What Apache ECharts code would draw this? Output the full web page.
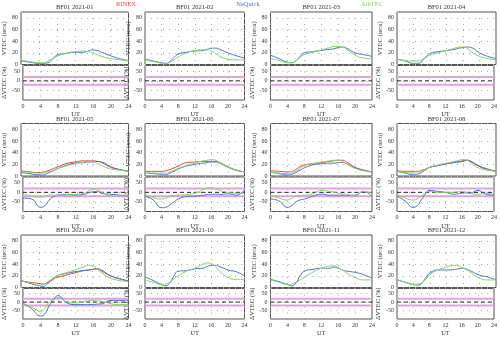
<!DOCTYPE html>
<html>
<head>
<meta charset="utf-8">
<script src="https://cdn.jsdelivr.net/npm/echarts@6/dist/echarts.min.js"></script>
<style>
html,body{margin:0;padding:0;background:#fff;}
#chart{width:500px;height:338px;}
</style>
</head>
<body>
<div id="chart"></div>
<script>
// Station BF01, monthly median diurnal VTEC for 2021 and relative model error.
const STATION = 'BF01';
const MONTHS = ['2021-01','2021-02','2021-03','2021-04','2021-05','2021-06',
                '2021-07','2021-08','2021-09','2021-10','2021-11','2021-12'];
const HOURS = [0,2,4,5,6,7,8,10,12,14,15,16,17,18,20,22,24];
const X_TICKS = [0,4,8,12,16,20,24];
const VTEC_TICKS = [0,20,40,60,80];
const DVTEC_TICKS = [50,0,-50];
const DVTEC_BAND = [20,-20];

// VTEC (TECU), one row per month, sampled at HOURS. null = no receiver data.
const RINEX_VTEC = [
  null, null, null, null,
  [9,7,6,7,9,12,15,21,24,26,26,26,25,23,15,11,8],
  [8,8,8,9,11,14,17,23,24,25,25,25,25,23,16,10,7],
  [9,8,7,8,11,16,19,21,23,25,26,27,27,24,15,10,7],
  [9,8,8,8,10,12,15,18,21,24,25,26,27,24,16,11,8],
  [11,9,7,6,9,13,17,21,25,29,30,31,32,28,20,15,11],
  null, null, null
];
const NEQUICK_VTEC = [
  [6,4,2,2,3,9,16,19,21,21,23,25,24,21,15,10,7],
  [9,6,3,2,5,12,18,21,23,24,26,28,28,26,20,15,11],
  [16,10,4,3,6,14,20,22,24,26,27,29,30,28,20,17,14],
  [9,6,2,2,5,13,19,22,24,26,28,29,30,29,20,14,10],
  [6,4,2,2,5,8,12,18,22,23,24,24,25,24,16,11,8],
  [6,4,3,2,5,8,12,17,20,22,23,24,24,22,15,10,7],
  [7,4,2,3,6,10,14,19,21,22,22,23,23,21,14,10,7],
  [8,5,2,3,6,11,15,18,21,23,24,25,27,25,17,12,8],
  [12,7,3,2,7,14,20,24,27,29,30,31,32,30,20,15,11],
  [18,12,5,3,8,20,28,29,32,33,36,38,38,36,30,27,20],
  [14,10,5,3,8,20,28,31,33,33,35,33,30,28,26,22,16],
  [13,9,5,4,7,17,25,30,30,31,32,33,31,28,21,18,13]
];
const ATHTEC_VTEC = [
  [7,5,3,3,6,10,14,19,22,23,22,20,17,14,10,8,6],
  [7,5,2,1,4,8,13,20,24,25,25,23,19,14,9,8,8],
  [10,7,3,3,6,12,17,21,25,29,31,31,30,26,16,11,10],
  [9,7,6,6,8,12,16,20,24,28,30,30,28,22,14,10,8],
  [8,6,5,5,7,9,12,17,21,24,25,25,22,18,12,10,8],
  [6,5,5,5,7,10,13,18,22,26,27,28,27,23,16,10,7],
  [6,5,4,5,8,13,18,21,24,26,27,27,25,21,13,9,7],
  [8,6,5,5,8,12,15,19,22,25,27,28,27,22,13,10,8],
  [11,8,4,5,10,15,20,25,30,35,38,37,32,25,16,12,10],
  [13,9,5,6,10,15,20,28,33,40,42,41,36,28,17,14,14],
  [13,9,5,6,9,13,18,26,33,37,37,34,30,25,17,13,13],
  [13,9,5,6,8,14,22,30,35,38,37,33,30,25,16,13,13]
];

// Relative difference against RINEX (%), sampled at HOURS.
const NEQUICK_DVTEC = [
  null, null, null, null,
  [-30,-35,-78,-70,-40,-22,-14,-12,-14,-10,-2,3,4,-6,-10,-15,-20],
  [-20,-40,-80,-78,-65,-50,-35,-22,-20,-15,-12,-10,-10,-12,-8,-15,12],
  [-35,-45,-78,-70,-50,-40,-35,-20,-10,-15,-15,-15,-15,-15,-15,5,-25],
  [-20,-45,-78,-70,-40,-10,10,5,0,-10,-8,-5,-3,-5,10,-10,-15],
  [-5,-40,-82,-70,-20,15,38,-5,-15,-15,-15,-15,-12,-10,10,10,10],
  null, null, null
];
const ATHTEC_DVTEC = [
  null, null, null, null,
  [-8,-20,-25,-20,-14,-15,-17,-13,-10,-5,8,17,10,0,-20,-15,-17],
  [-10,-28,-35,-30,-20,-17,-15,-12,-5,15,22,25,18,10,0,-5,-5],
  [-15,-30,-40,-32,-20,-17,-15,-8,10,5,2,-5,-8,-10,-20,5,-5],
  [-10,-30,-40,-35,-20,-5,5,0,0,0,3,5,2,-5,-10,-5,-10],
  [-10,-30,-55,-35,0,15,28,0,-5,5,8,10,8,5,-10,-15,-15],
  null, null, null
];

const COLORS = { RINEX: '#f23a3a', NeQuick: '#4d6fd1', AthTEC: '#80d85c' };
const FONT = 'Liberation Serif';

// panel geometry (px)
const COL_LEFT = [21, 145, 270.5, 397];
const COL_RIGHT = [128.5, 244.5, 372, 496];
const ROW_TOP0 = 12, ROW_STEP = 111.5;
const UP_H = 52.5, LOW_H = 34.5;

const dotted = { color: '#a8a8a8', width: 1, type: [1, 5] };
const labelStyle = { fontFamily: FONT, fontSize: 6, color: '#333' };
const nameStyle = { fontFamily: FONT, fontSize: 6.5, color: '#333' };

const grids = [], xAxes = [], yAxes = [], series = [], graphics = [];
const pts = arr => HOURS.map((h, k) => [h, arr[k]]);

MONTHS.forEach((month, i) => {
  const r = Math.floor(i / 4), c = i % 4;
  const left = COL_LEFT[c], width = COL_RIGHT[c] - left;
  const top = ROW_TOP0 + ROW_STEP * r;
  const gu = grids.length, gl = gu + 1;

  grids.push({ left, top, width, height: UP_H, show: true, borderColor: '#555', borderWidth: 1 });
  grids.push({ left, top: top + UP_H + 1, width, height: LOW_H, show: true, borderColor: '#555', borderWidth: 1 });

  const baseX = {
    type: 'value', min: 0, max: 24, interval: 4,
    axisLine: { show: false }, axisTick: { show: false },
    splitLine: { show: true, lineStyle: dotted }
  };
  xAxes.push(Object.assign({}, baseX, { gridIndex: gu, axisLabel: { show: false } }));
  xAxes.push(Object.assign({}, baseX, {
    gridIndex: gl,
    axisLabel: Object.assign({ show: true, margin: 3,
      formatter: v => X_TICKS.includes(v) ? String(v) : '' }, labelStyle),
    name: 'UT', nameLocation: 'middle', nameGap: 11, nameTextStyle: nameStyle
  }));

  yAxes.push({
    gridIndex: gu, type: 'value', min: 0, max: 90, interval: 20,
    axisLine: { show: false }, axisTick: { show: false },
    splitLine: { show: true, lineStyle: dotted },
    axisLabel: Object.assign({ margin: 3,
      formatter: v => VTEC_TICKS.includes(v) ? String(v) : '' }, labelStyle),
    name: 'VTEC (tecu)', nameLocation: 'middle', nameGap: 10, nameRotate: 90,
    nameTextStyle: nameStyle
  });
  yAxes.push({
    gridIndex: gl, type: 'value', min: -100, max: 80, interval: 50,
    axisLine: { show: false }, axisTick: { show: false },
    splitLine: { show: true, lineStyle: dotted },
    axisLabel: Object.assign({ margin: 3,
      formatter: v => DVTEC_TICKS.includes(v) ? String(v) : '' }, labelStyle),
    name: 'ΔVTEC (%)', nameLocation: 'middle', nameGap: 10, nameRotate: 90,
    nameTextStyle: nameStyle
  });

  const line = (name, data, xi, yi, extra) => Object.assign({
    name, type: 'line', xAxisIndex: xi, yAxisIndex: yi, data,
    showSymbol: false, smooth: true, silent: true, animation: false,
    lineStyle: { color: COLORS[name], width: 1 }, itemStyle: { color: COLORS[name] }
  }, extra || {});

  // upper panel: VTEC curves
  if (RINEX_VTEC[i]) series.push(line('RINEX', pts(RINEX_VTEC[i]), gu, gu));
  series.push(line('NeQuick', pts(NEQUICK_VTEC[i]), gu, gu));
  series.push(line('AthTEC', pts(ATHTEC_VTEC[i]), gu, gu));

  // lower panel: tolerance band and zero line
  DVTEC_BAND.forEach(v => series.push({
    type: 'line', xAxisIndex: gl, yAxisIndex: gl, data: [[0, v], [24, v]],
    showSymbol: false, silent: true, animation: false,
    lineStyle: { color: '#e2a2e2', width: 2 }
  }));
  series.push({
    type: 'line', xAxisIndex: gl, yAxisIndex: gl, data: [[0, 0], [24, 0]],
    showSymbol: false, silent: true, animation: false,
    lineStyle: { color: '#222', width: 1, type: [4, 3] }
  });
  if (NEQUICK_DVTEC[i]) series.push(line('NeQuick', pts(NEQUICK_DVTEC[i]), gl, gl));
  if (ATHTEC_DVTEC[i]) series.push(line('AthTEC', pts(ATHTEC_DVTEC[i]), gl, gl));

  graphics.push({
    type: 'text', x: left + width / 2, y: top - 4.5,
    style: { text: STATION + ' ' + month, fontFamily: FONT, fontSize: 6.5,
             fill: '#333', textAlign: 'center', textVerticalAlign: 'middle' }
  });
});

// series key along the top
[['RINEX', 126], ['NeQuick', 248], ['AthTEC', 372]].forEach(([name, x]) => {
  graphics.push({
    type: 'text', x, y: 4,
    style: { text: name, fontFamily: FONT, fontSize: 6.5, fill: COLORS[name],
             textAlign: 'center', textVerticalAlign: 'middle' }
  });
});

const chart = echarts.init(document.getElementById('chart'), null, { renderer: 'canvas' });
chart.setOption({
  animation: false,
  backgroundColor: '#fff',
  grid: grids, xAxis: xAxes, yAxis: yAxes, series, graphic: graphics
});
</script>
</body>
</html>
